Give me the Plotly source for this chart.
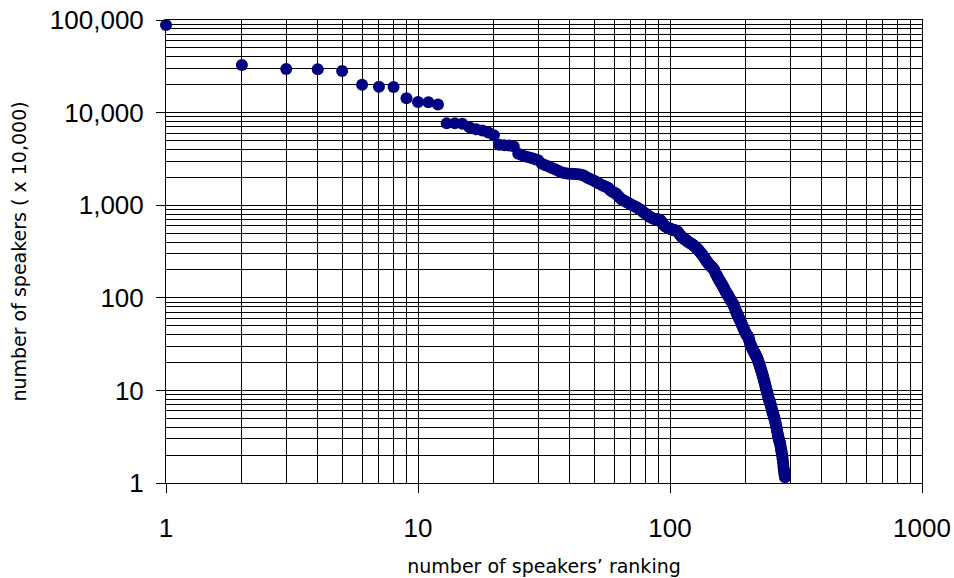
import plotly.graph_objects as go

# number of speakers (x 10,000) for each language, in ranking order 1..286
speakers = [
    88300, 32600, 29500, 29400, 28100, 20000, 19000, 18900, 14300, 13000,
    12900, 12200, 7650, 7650, 7600, 6930, 6600, 6400, 6100, 5700,
    4500, 4450, 4400, 4300, 3600, 3450, 3340, 3250, 3150, 3050,
    2800, 2700, 2620, 2520, 2450, 2350, 2270, 2230, 2200, 2190,
    2180, 2170, 2160, 2150, 2120, 2050, 1980, 1930, 1880, 1840,
    1780, 1730, 1680, 1630, 1600, 1570, 1530, 1450, 1400, 1370,
    1340, 1280, 1220, 1170, 1140, 1110, 1090, 1060, 1040, 1020,
    1000, 980, 960, 940, 920, 900, 880, 850, 830, 810,
    790, 770, 750, 735, 725, 715, 710, 706, 703, 700,
    698, 680, 650, 620, 600, 590, 580, 570, 565, 560,
    550, 545, 540, 537, 535, 530, 520, 505, 490, 475,
    460, 448, 437, 430, 425, 418, 410, 402, 395, 390,
    385, 380, 375, 370, 362, 355, 348, 340, 333, 325,
    318, 310, 302, 294, 286, 278, 270, 262, 255, 248,
    242, 236, 230, 225, 220, 216, 212, 209, 205, 198,
    190, 183, 176, 170, 165, 160, 155, 150, 146, 142,
    138, 134, 130, 126, 122, 118, 115, 112, 109, 106,
    103, 100, 97, 95, 92, 90, 88, 86, 83, 80,
    77, 74, 71, 68, 66, 64, 62, 60, 58.5, 57,
    55, 53, 51, 49.5, 48, 46.5, 45, 43.5, 42.5, 41.5,
    40.5, 39.5, 38.7, 38, 37.5, 35.5, 33.5, 32, 31, 30,
    29.3, 28.6, 27.9, 27.2, 26.5, 25.8, 25.2, 24.6, 24, 23.4,
    23, 22.2, 21.4, 20.7, 20, 19.3, 18.6, 17.9, 17.2, 16.5,
    15.9, 15.3, 14.7, 14.1, 13.5, 12.9, 12.4, 11.9, 11.3, 10.8,
    10.3, 9.9, 9.5, 9.1, 8.7, 8.3, 8.0, 7.7, 7.4, 7.2,
    7.0, 6.7, 6.4, 6.1, 5.9, 5.7, 5.5, 5.3, 5.1, 4.9,
    4.76, 4.5, 4.3, 4.1, 3.9, 3.7, 3.5, 3.3, 3.14, 3.0,
    2.9, 2.8, 2.7, 2.6, 2.45, 2.3, 2.2, 2.08, 1.95, 1.8,
    1.65, 1.5, 1.4, 1.3, 1.22, 1.15,
]
ranking = list(range(1, len(speakers) + 1))

x_tickvals = [1, 10, 100, 1000]
x_ticktext = ["1", "10", "100", "1000"]
y_tickvals = [1, 10, 100, 1000, 10000, 100000]
y_ticktext = ["1", "10", "100", "1,000", "10,000", "100,000"]
minor_x = [m * d for d in (1, 10, 100) for m in range(2, 10)]
minor_y = [m * d for d in (1, 10, 100, 1000, 10000) for m in range(2, 10)]

fig = go.Figure()
fig.add_trace(go.Scatter(
    x=ranking, y=speakers, mode="markers",
    marker=dict(color="#000080", size=12, line=dict(width=0)),
    cliponaxis=False, hoverinfo="x+y", showlegend=False,
))

axis_common = dict(
    type="log", showline=True, linecolor="black", linewidth=1, mirror=True,
    ticks="outside", ticklen=9, tickcolor="black", tickwidth=1,
    showgrid=True, gridcolor="black", gridwidth=1, zeroline=False,
    tickfont=dict(family="Liberation Sans, Arial, sans-serif", size=26, color="black"),
    automargin=False,
)

fig.update_xaxes(
    **axis_common, range=[0, 3], tickmode="array",
    tickvals=x_tickvals, ticktext=x_ticktext, ticklabelstandoff=13,
    minor=dict(tickvals=minor_x, showgrid=True, gridcolor="black", gridwidth=1, ticks=""),
    title=dict(text="number of speakers’ ranking", standoff=17,
               font=dict(family="DejaVu Sans", size=19, color="black")),
)
fig.update_yaxes(
    **axis_common, range=[0, 5], tickmode="array",
    tickvals=y_tickvals, ticktext=y_ticktext, ticklabelstandoff=7,
    minor=dict(tickvals=minor_y, showgrid=True, gridcolor="black", gridwidth=1, ticks=""),
    title=dict(text="number of speakers ( x 10,000)", standoff=18,
               font=dict(family="DejaVu Sans", size=19, color="black")),
)

fig.update_layout(
    width=954, height=578,
    margin=dict(l=166, r=32, t=20, b=95),
    paper_bgcolor="white", plot_bgcolor="white",
    font=dict(family="Liberation Sans, Arial, sans-serif", color="black"),
)

fig.write_html(
    "out.html",
    config={"displayModeBar": False},
    post_script="document.body.style.margin='0';document.body.style.overflow='hidden';",
)
